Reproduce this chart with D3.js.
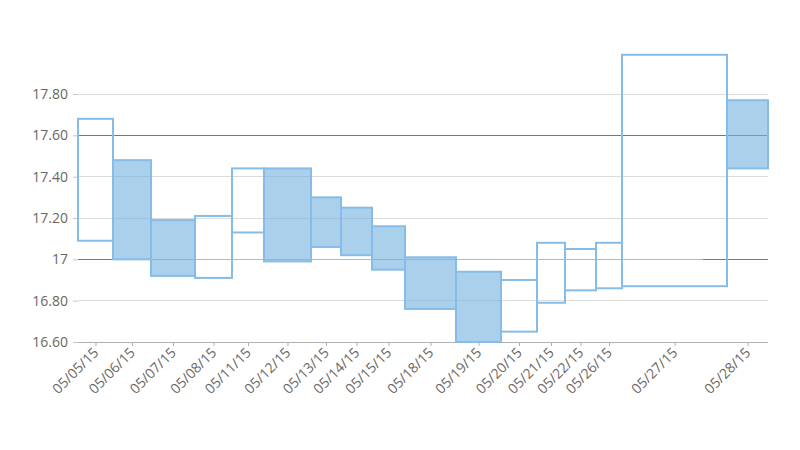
<!DOCTYPE html>
<html>
<head>
<meta charset="utf-8">
<script src="https://cdn.jsdelivr.net/npm/d3@7"></script>
<style>
  html, body { margin: 0; padding: 0; background: #fff; }
  svg { display: block; }
  text { font-family: "Open Sans", "Noto Sans", sans-serif; font-size: 14px; fill: #6b6763; }
</style>
</head>
<body>
<svg id="chart" width="800" height="450"></svg>
<script>
// ---- data ----
const dates   = ["05/05/15","05/06/15","05/07/15","05/08/15","05/11/15","05/12/15","05/13/15","05/14/15","05/15/15","05/18/15","05/19/15","05/20/15","05/21/15","05/22/15","05/26/15","05/27/15","05/28/15"];
const opens   = [17.09, 17.48, 17.19, 16.91, 17.13, 17.44, 17.30, 17.25, 17.16, 17.01, 16.94, 16.65, 16.79, 16.85, 16.86, 16.87, 17.77];
const closes  = [17.68, 17.00, 16.92, 17.21, 17.44, 16.99, 17.06, 17.02, 16.95, 16.76, 16.60, 16.90, 17.08, 17.05, 17.08, 17.99, 17.44];
const volumes = [3.5, 3.8, 4.4, 3.7, 3.2, 4.7, 3.0, 3.1, 3.3, 5.1, 4.5, 3.6, 2.8, 3.1, 2.6, 10.5, 4.1]; // millions
const yTicks  = [16.6, 16.8, 17.0, 17.2, 17.4, 17.6, 17.8];
const yLabels = ["16.60", "16.80", "17", "17.20", "17.40", "17.60", "17.80"];
// darker reference line segments: value, from/to in cumulative volume
const refLines = [
  { value: 17.6, from: 0,    to: 69.0 },
  { value: 17.0, from: 0,    to: 3.5 },
  { value: 17.0, from: 62.5, to: 69.0 }
];

// ---- layout ----
const svg = d3.select("#chart");
const mLeft = 78, mRight = 768, mTop = 52.7, mBottom = 342;

let cum = 0;
const bars = dates.map((d, i) => {
  const b = { date: d, open: opens[i], close: closes[i], x0: cum, x1: cum + volumes[i] };
  cum += volumes[i];
  return b;
});

const x = d3.scaleLinear().domain([0, cum]).range([mLeft, mRight]);
const y = d3.scaleLinear().domain([16.6, 18.0]).range([mBottom, mTop]);

// gridlines
svg.append("g").selectAll("line").data(yTicks.slice(1)).join("line")
  .attr("x1", mLeft).attr("x2", mRight)
  .attr("y1", d => y(d)).attr("y2", d => y(d))
  .attr("stroke", d => Math.abs(d - 17) < 1e-9 ? "#b8b8b8" : "#dcdcdc")
  .attr("stroke-width", 1).attr("shape-rendering", "crispEdges");

svg.append("g").selectAll("line").data(refLines).join("line")
  .attr("x1", d => x(d.from)).attr("x2", d => x(d.to))
  .attr("y1", d => y(d.value)).attr("y2", d => y(d.value))
  .attr("stroke", "#767676").attr("stroke-width", 1).attr("shape-rendering", "crispEdges");

// y axis
const yAxis = d3.axisLeft(y).tickValues(yTicks).tickSize(5).tickPadding(5)
  .tickFormat((d, i) => yLabels[i]);
const gy = svg.append("g").attr("transform", `translate(${mLeft},0)`).call(yAxis);
gy.select(".domain").remove();
gy.selectAll(".tick line").attr("stroke", "#c8c8c8");
gy.selectAll("text").attr("fill", "#6b6763").style("font-size", "14px").attr("font-family", null);

// x axis (category ticks at box centers)
const centers = bars.map(b => (b.x0 + b.x1) / 2);
const xAxis = d3.axisBottom(x).tickValues(centers).tickSize(4).tickPadding(4)
  .tickFormat((d, i) => dates[i]);
const gx = svg.append("g").attr("transform", `translate(0,${mBottom})`).call(xAxis);
gx.select(".domain").attr("stroke", "#b0b0b0").attr("d", `M${mLeft},0.5H${mRight}`);
gx.selectAll(".tick line").attr("stroke", "#b0b0b0");
gx.selectAll("text")
  .attr("fill", "#6b6763").style("font-size", "14px").attr("font-family", null)
  .attr("text-anchor", "end")
  .attr("dy", "0.35em")
  .attr("transform", "translate(0,8) rotate(-45)")
  .attr("y", 0).attr("x", 0);

// boxes
svg.append("g").selectAll("rect").data(bars).join("rect")
  .attr("x", d => x(d.x0))
  .attr("width", d => x(d.x1) - x(d.x0))
  .attr("y", d => y(Math.max(d.open, d.close)))
  .attr("height", d => Math.abs(y(d.open) - y(d.close)))
  .attr("fill", d => d.close < d.open ? "rgba(115,177,223,0.6)" : "none")
  .attr("stroke", "#86bde8")
  .attr("stroke-width", 2);
</script>
</body>
</html>
